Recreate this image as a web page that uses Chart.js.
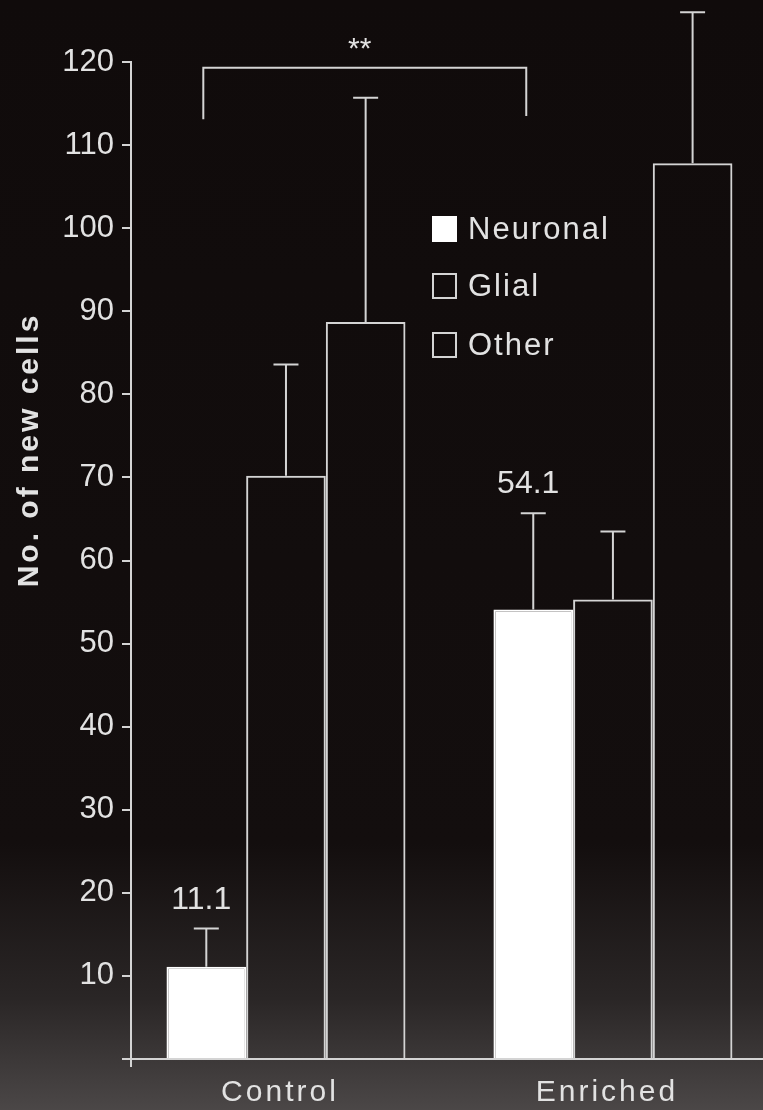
<!DOCTYPE html>
<html>
<head>
<meta charset="utf-8">
<script src="https://cdn.jsdelivr.net/npm/chart.js@4.4.1/dist/chart.umd.min.js"></script>
<style>
  html, body { margin: 0; padding: 0; background: #100b0b; }
  #contenedor { width: 763px; height: 1110px; }
</style>
</head>
<body>
<div id="contenedor"><canvas id="grafico"></canvas></div>
<script>
// --- DATOS ---
const grupos = ['Control', 'Enriched'];
const grupoPos = [1, 2];
const series = ['Neuronal', 'Glial', 'Other'];
const neuronal = [11.1, 54.1];
const glial = [70.2, 55.3];
const otros = [88.7, 107.8];
// extremo superior de cada barra de error
const errNeuronal = [15.7, 65.7];
const errGlial = [83.6, 63.5];
const errOtros = [115.7, 126.0];
const etiquetasValor = ['11.1', '54.1'];
const yMin = 0, yMax = 120, yPaso = 10;
const signif = '**';

// --- ESTILO ---
const FUENTE = "'Liberation Sans', Arial, sans-serif";
const LINEA = '#d4d4d4';
const TEXTO = '#e2e2e2';

const errores = [errNeuronal, errGlial, errOtros];
const valores = [neuronal, glial, otros];
const rellenos = ['#ffffff', 'rgba(0,0,0,0)', 'rgba(0,0,0,0)'];
const bordes = ['#ffffff', LINEA, LINEA];

function aPuntos(vals) {
    return grupoPos.map((x, i) => ({ x: x, y: vals[i] }));
}

// --- PLUGINS ---
const fondo = {
    id: 'fondo',
    beforeDraw(chart) {
        const { ctx, width, height } = chart;
        const g = ctx.createLinearGradient(0, 0, 0, height);
        g.addColorStop(0, '#100b0b');
        g.addColorStop(0.76, '#130e0e');
        g.addColorStop(0.9, '#2a2626');
        g.addColorStop(1, '#4b4747');
        ctx.save();
        ctx.fillStyle = g;
        ctx.fillRect(0, 0, width, height);
        ctx.restore();
    }
};

const extras = {
    id: 'extras',
    afterDatasetsDraw(chart) {
        const { ctx, chartArea } = chart;
        const yS = chart.scales.y;
        ctx.save();
        ctx.strokeStyle = LINEA;
        ctx.lineWidth = 2;

        // barras de error (solo hacia arriba)
        errores.forEach((errs, d) => {
            chart.getDatasetMeta(d).data.forEach((bar, i) => {
                const yTop = yS.getPixelForValue(errs[i]);
                ctx.beginPath();
                ctx.moveTo(bar.x, bar.y);
                ctx.lineTo(bar.x, yTop);
                ctx.moveTo(bar.x - 12.5, yTop);
                ctx.lineTo(bar.x + 12.5, yTop);
                ctx.stroke();
            });
        });

        // prolongación del eje y bajo la base
        ctx.beginPath();
        ctx.moveTo(chartArea.left, chartArea.bottom);
        ctx.lineTo(chartArea.left, chartArea.bottom + 8);
        ctx.stroke();

        // corchete de significancia
        const neu = chart.getDatasetMeta(0).data;
        const xa = neu[0].x - 3, xb = neu[1].x - 7;
        const yTope = yS.getPixelForValue(119.3);
        ctx.beginPath();
        ctx.moveTo(xa, yS.getPixelForValue(113.1));
        ctx.lineTo(xa, yTope);
        ctx.lineTo(xb, yTope);
        ctx.lineTo(xb, yS.getPixelForValue(113.5));
        ctx.stroke();

        ctx.fillStyle = TEXTO;
        ctx.textAlign = 'center';
        ctx.textBaseline = 'middle';
        ctx.font = '30px ' + FUENTE;
        ctx.fillText(signif, (xa + xb) / 2 - 5, yTope - 18);

        // etiquetas de valor sobre las barras neuronales
        ctx.font = '32px ' + FUENTE;
        ctx.textBaseline = 'alphabetic';
        neu.forEach((bar, i) => {
            const yTop = yS.getPixelForValue(errNeuronal[i]);
            ctx.fillText(etiquetasValor[i], bar.x - 5, yTop - 20);
        });

        // etiquetas de grupo en el eje x
        ctx.font = '30px ' + FUENTE;
        ctx.letterSpacing = '3px';
        ctx.textBaseline = 'middle';
        const xS = chart.scales.x;
        grupos.forEach((g, i) => {
            ctx.fillText(g, xS.getPixelForValue(grupoPos[i]) - 6, chartArea.bottom + 34);
        });

        // título del eje y
        ctx.save();
        ctx.translate(30, 450);
        ctx.rotate(-Math.PI / 2);
        ctx.font = 'bold 30px ' + FUENTE;
        ctx.letterSpacing = '3px';
        ctx.fillText('No. of new cells', 0, 0);
        ctx.restore();

        // leyenda
        ctx.letterSpacing = '2px';
        ctx.font = '31px ' + FUENTE;
        ctx.textAlign = 'left';
        const filas = [229, 286, 345];
        chart.data.datasets.forEach((ds, d) => {
            const yc = filas[d];
            if (d === 0) {
                ctx.fillStyle = '#ffffff';
                ctx.fillRect(432, yc - 13, 25, 26);
            } else {
                ctx.strokeRect(433, yc - 12, 23, 24);
            }
            ctx.fillStyle = TEXTO;
            ctx.fillText(ds.label, 468, yc + 1);
        });
        ctx.restore();
    }
};

// --- GRÁFICO ---
new Chart(document.getElementById('grafico'), {
    type: 'bar',
    data: {
        datasets: series.map((s, d) => ({
            label: s,
            data: aPuntos(valores[d]),
            backgroundColor: rellenos[d],
            borderColor: bordes[d],
            borderWidth: 2,
            categoryPercentage: 0.731,
            barPercentage: 1.0
        }))
    },
    options: {
        responsive: true,
        maintainAspectRatio: false,
        animation: false,
        devicePixelRatio: 1,
        layout: { padding: { top: 62, right: 0, left: 0, bottom: 0 } },
        plugins: { legend: { display: false }, tooltip: { enabled: false } },
        scales: {
            x: {
                type: 'linear',
                offset: false,
                bounds: 'ticks',
                min: 0.526,
                max: 2.459,
                ticks: { display: false, stepSize: 1, includeBounds: false },
                grid: { display: false, offset: false },
                border: { display: true, color: LINEA, width: 2 },
                afterFit: (s) => { s.height = 51; }
            },
            y: {
                min: yMin,
                max: yMax,
                ticks: {
                    stepSize: yPaso,
                    color: TEXTO,
                    padding: 8,
                    font: { family: FUENTE, size: 31 },
                    callback: (v) => v === 0 ? '' : v
                },
                grid: { drawOnChartArea: false, drawTicks: true, tickLength: 9, color: LINEA, lineWidth: 2 },
                border: { display: true, color: LINEA, width: 2 },
                afterFit: (s) => { s.width = 131; }
            }
        }
    },
    plugins: [fondo, extras]
});
</script>
</body>
</html>
